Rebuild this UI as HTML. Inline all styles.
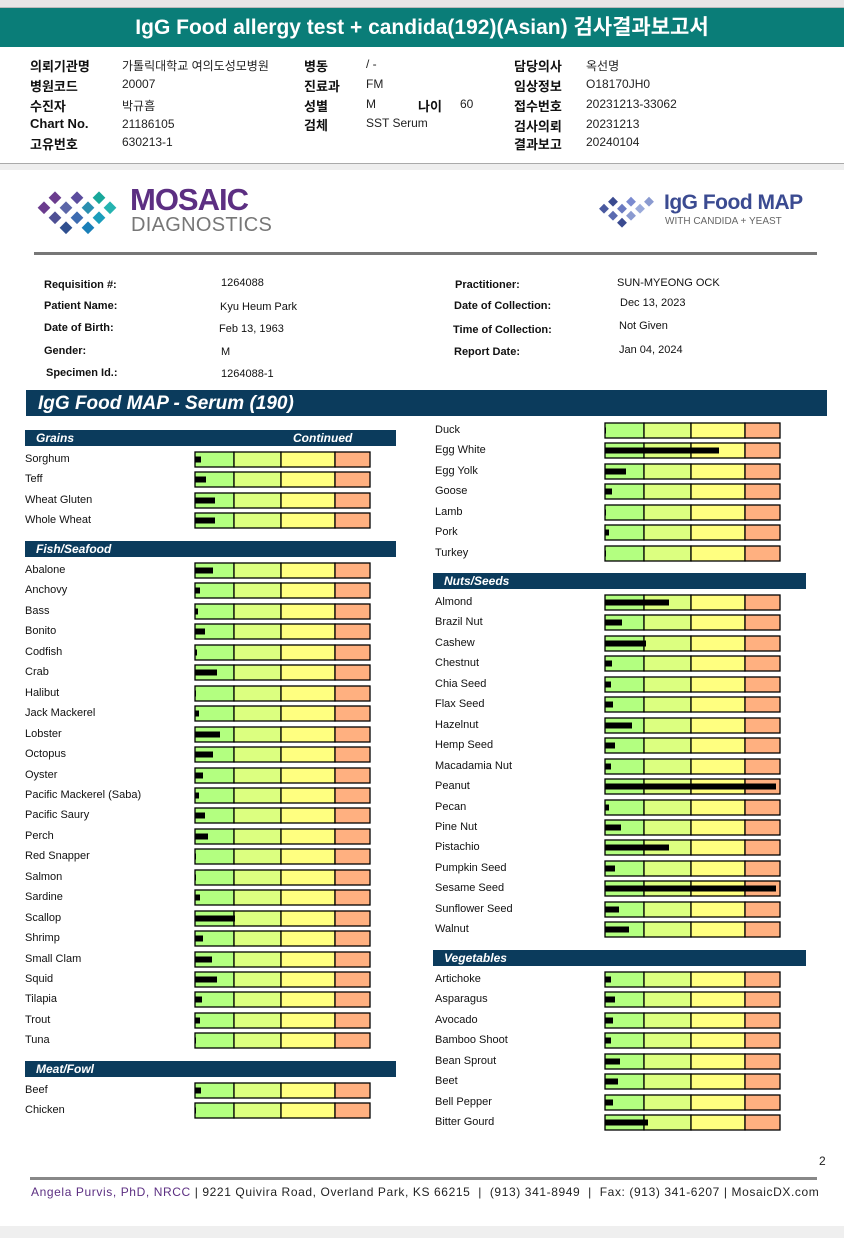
<!DOCTYPE html>
<html><head><meta charset="utf-8">
<style>
body{margin:0;width:844px;height:1238px;position:relative;background:#fff;font-family:"Liberation Sans","Noto Sans CJK KR",sans-serif;overflow:hidden}
.a{position:absolute;white-space:nowrap}
.k{font-weight:bold;font-size:13px;color:#111}
.v{font-size:12px;color:#222}
.pl{font-size:11px;font-weight:bold;color:#111}
.pv{font-size:11px;color:#111}
.sec{position:absolute;height:16px;background:#0b3b5c;color:#fff;font-weight:bold;font-style:italic;font-size:12px;line-height:16px}
.lbl{position:absolute;font-size:11px;color:#111;white-space:nowrap}
</style></head><body>
<div class="a" style="left:0;top:0;width:844px;height:7px;background:#e6e6e6;border-bottom:1px solid #bbb"></div>
<div class="a" style="left:0;top:8px;width:844px;height:39px;background:#0a7d78;color:#fff;font-size:21px;font-weight:bold;text-align:center;line-height:40px">IgG Food allergy test + candida(192)(Asian) 검사결과보고서</div>

<div>
<div class="a k" style="left:30px;top:56px">의뢰기관명</div><div class="a v" style="left:122px;top:57px">가톨릭대학교 여의도성모병원</div>
<div class="a k" style="left:30px;top:76px">병원코드</div><div class="a v" style="left:122px;top:77px">20007</div>
<div class="a k" style="left:30px;top:96px">수진자</div><div class="a v" style="left:122px;top:97px">박규흠</div>
<div class="a k" style="left:30px;top:116px">Chart No.</div><div class="a v" style="left:122px;top:117px">21186105</div>
<div class="a k" style="left:30px;top:134px">고유번호</div><div class="a v" style="left:122px;top:135px">630213-1</div>
<div class="a k" style="left:304px;top:56px">병동</div><div class="a v" style="left:366px;top:57px">/ -</div>
<div class="a k" style="left:304px;top:76px">진료과</div><div class="a v" style="left:366px;top:77px">FM</div>
<div class="a k" style="left:304px;top:96px">성별</div><div class="a v" style="left:366px;top:97px">M</div>
<div class="a k" style="left:418px;top:96px">나이</div><div class="a v" style="left:460px;top:97px">60</div>
<div class="a k" style="left:304px;top:115px">검체</div><div class="a v" style="left:366px;top:116px">SST Serum</div>
<div class="a k" style="left:514px;top:56px">담당의사</div><div class="a v" style="left:586px;top:57px">옥선명</div>
<div class="a k" style="left:514px;top:76px">임상정보</div><div class="a v" style="left:586px;top:77px">O18170JH0</div>
<div class="a k" style="left:514px;top:96px">접수번호</div><div class="a v" style="left:586px;top:97px">20231213-33062</div>
<div class="a k" style="left:514px;top:116px">검사의뢰</div><div class="a v" style="left:586px;top:117px">20231213</div>
<div class="a k" style="left:514px;top:134px">결과보고</div><div class="a v" style="left:586px;top:135px">20240104</div>
</div>
<div class="a" style="left:0;top:163px;width:844px;height:6px;background:#eee;border-top:1px solid #aaa"></div>

<svg class="a" style="left:34px;top:185px" width="90" height="50">
<rect x="6" y="18" width="9" height="9" fill="#6b3c8e" transform="rotate(45 10 22)"/>
<rect x="17" y="8" width="9" height="9" fill="#6b3c8e" transform="rotate(45 21 12)"/>
<rect x="17" y="28" width="9" height="9" fill="#4e4f94" transform="rotate(45 21 32)"/>
<rect x="28" y="18" width="9" height="9" fill="#5b66a8" transform="rotate(45 32 22)"/>
<rect x="28" y="38" width="9" height="9" fill="#2f4f8f" transform="rotate(45 32 42)"/>
<rect x="39" y="8" width="9" height="9" fill="#5b4c9d" transform="rotate(45 43 12)"/>
<rect x="39" y="28" width="9" height="9" fill="#3d6bb0" transform="rotate(45 43 32)"/>
<rect x="50" y="18" width="9" height="9" fill="#2a8fb0" transform="rotate(45 54 22)"/>
<rect x="50" y="38" width="9" height="9" fill="#1a7fb8" transform="rotate(45 54 42)"/>
<rect x="61" y="8" width="9" height="9" fill="#18a79a" transform="rotate(45 65 12)"/>
<rect x="61" y="28" width="9" height="9" fill="#1a9dbb" transform="rotate(45 65 32)"/>
<rect x="72" y="18" width="9" height="9" fill="#25b3b0" transform="rotate(45 76 22)"/>
</svg>
<div class="a" style="left:130px;top:182px;color:#5c2f82;font-size:31px;font-weight:bold;letter-spacing:-1px">MOSAIC</div>
<div class="a" style="left:131px;top:214px;color:#777;font-size:20px;letter-spacing:0.3px">DIAGNOSTICS</div>
<svg class="a" style="left:598px;top:193px" width="60" height="36">
<rect x="3" y="12" width="7" height="7" fill="#4a5aa0" transform="rotate(45 6 15)"/>
<rect x="12" y="5" width="7" height="7" fill="#3a4a90" transform="rotate(45 15 8)"/>
<rect x="12" y="19" width="7" height="7" fill="#5a6ab0" transform="rotate(45 15 22)"/>
<rect x="21" y="12" width="7" height="7" fill="#6a7ac0" transform="rotate(45 24 15)"/>
<rect x="21" y="26" width="7" height="7" fill="#3a4a90" transform="rotate(45 24 29)"/>
<rect x="30" y="5" width="7" height="7" fill="#7a8ad0" transform="rotate(45 33 8)"/>
<rect x="30" y="19" width="7" height="7" fill="#8a9ad0" transform="rotate(45 33 22)"/>
<rect x="39" y="12" width="7" height="7" fill="#9aaada" transform="rotate(45 42 15)"/>
<rect x="48" y="5" width="7" height="7" fill="#8a9ad0" transform="rotate(45 51 8)"/>
</svg>
<div class="a" style="left:664px;top:191px;color:#3b4b91;font-size:21px;font-weight:bold;letter-spacing:-0.5px">IgG Food MAP</div>
<div class="a" style="left:665px;top:216px;color:#666;font-size:10px">WITH CANDIDA + YEAST</div>
<div class="a" style="left:34px;top:252px;width:783px;height:3px;background:#777"></div>

<div>
<div class="a pl" style="left:44px;top:279px">Requisition #:</div><div class="a pv" style="left:221px;top:277px">1264088</div>
<div class="a pl" style="left:44px;top:300px">Patient Name:</div><div class="a pv" style="left:220px;top:301px">Kyu Heum Park</div>
<div class="a pl" style="left:44px;top:322px">Date of Birth:</div><div class="a pv" style="left:219px;top:323px">Feb 13, 1963</div>
<div class="a pl" style="left:44px;top:345px">Gender:</div><div class="a pv" style="left:221px;top:346px">M</div>
<div class="a pl" style="left:46px;top:367px">Specimen Id.:</div><div class="a pv" style="left:221px;top:368px">1264088-1</div>
<div class="a pl" style="left:455px;top:279px">Practitioner:</div><div class="a pv" style="left:617px;top:277px">SUN-MYEONG OCK</div>
<div class="a pl" style="left:454px;top:300px">Date of Collection:</div><div class="a pv" style="left:620px;top:297px">Dec 13, 2023</div>
<div class="a pl" style="left:453px;top:324px">Time of Collection:</div><div class="a pv" style="left:619px;top:320px">Not Given</div>
<div class="a pl" style="left:454px;top:346px">Report Date:</div><div class="a pv" style="left:619px;top:344px">Jan 04, 2024</div>
</div>

<div class="a" style="left:26px;top:390px;width:801px;height:26px;background:#0b3b5c;color:#fff;font-weight:bold;font-style:italic;font-size:19px;line-height:27px;padding-left:12px;box-sizing:border-box">IgG Food MAP - Serum (190)</div>

<div id="chart"></div>

<div class="a" style="left:819px;top:1154px;font-size:12px;color:#222">2</div>
<div class="a" style="left:30px;top:1177px;width:787px;height:3px;background:#888"></div>
<div class="a" style="left:31px;top:1185px;font-size:12px;color:#222;letter-spacing:0.6px"><span style="color:#5c2f82">Angela Purvis, PhD, NRCC</span> | 9221 Quivira Road, Overland Park, KS 66215 &nbsp;| &nbsp;(913) 341-8949 &nbsp;| &nbsp;Fax: (913) 341-6207 | MosaicDX.com</div>
<div class="a" style="left:0;top:1226px;width:844px;height:12px;background:#efefef"></div>

<script>
const leftSections = ["Grains","Fish/Seafood","Meat/Fowl"];
const grainsFoods = ["Sorghum","Teff","Wheat Gluten","Whole Wheat"];
const grainsValues = [6,11,20,20];
const fishFoods = ["Abalone","Anchovy","Bass","Bonito","Codfish","Crab","Halibut","Jack Mackerel","Lobster","Octopus","Oyster","Pacific Mackerel (Saba)","Pacific Saury","Perch","Red Snapper","Salmon","Sardine","Scallop","Shrimp","Small Clam","Squid","Tilapia","Trout","Tuna"];
const fishValues = [18,5,3,10,2,22,1,4,25,18,8,4,10,13,1,1,5,40,8,17,22,7,5,1];
const meatFoods = ["Beef","Chicken"];
const meatValues = [6,1];
const meatContFoods = ["Duck","Egg White","Egg Yolk","Goose","Lamb","Pork","Turkey"];
const meatContValues = [1,114,21,7,1,4,1];
const nutsFoods = ["Almond","Brazil Nut","Cashew","Chestnut","Chia Seed","Flax Seed","Hazelnut","Hemp Seed","Macadamia Nut","Peanut","Pecan","Pine Nut","Pistachio","Pumpkin Seed","Sesame Seed","Sunflower Seed","Walnut"];
const nutsValues = [64,17,41,7,6,8,27,10,6,171,4,16,64,10,171,14,24];
const vegFoods = ["Artichoke","Asparagus","Avocado","Bamboo Shoot","Bean Sprout","Beet","Bell Pepper","Bitter Gourd"];
const vegValues = [6,10,8,6,15,13,8,43];
const zoneBreaks = [0,39,86,140,175];
const zoneColors = ["#b3ff80","#dcff80","#ffff80","#ffb080"];

const chart = document.getElementById('chart');
const STEP = 20.45, BOXW = 175;
function xScale(v){ return Math.min(v, BOXW) * 1; }
function slug(s){ return s.toLowerCase().replace(/[^a-z0-9]+/g,'-').replace(/-$/,''); }

function header(x, y, w, title, cont){
  const h = document.createElement('div');
  h.className = 'sec';
  h.style.left = x+'px'; h.style.top = y+'px'; h.style.width = w+'px';
  h.innerHTML = '<span style="position:absolute;left:11px">'+title+'</span>' + (cont ? '<span style="position:absolute;left:268px">Continued</span>' : '');
  
  
  chart.appendChild(h);
}
function rows(foods, values, lx, bx, y0){
  foods.forEach((f, i) => {
    const cy = y0 + i*STEP;
    const l = document.createElement('div');
    l.className = 'lbl'; l.textContent = f;
    l.style.left = lx+'px'; l.style.top = (cy-7)+'px';
    
    
    chart.appendChild(l);
    const svg = document.createElementNS('http://www.w3.org/2000/svg','svg');
    svg.setAttribute('width', BOXW+2); svg.setAttribute('height', 17);
    svg.style.position = 'absolute'; svg.style.left = (bx-1)+'px'; svg.style.top = (cy-9)+'px';
    
    
    let s = '';
    for (let z = 0; z < 4; z++) {
      s += '<rect x="'+(1+zoneBreaks[z])+'" y="1" width="'+(zoneBreaks[z+1]-zoneBreaks[z])+'" height="15" fill="'+zoneColors[z]+'" stroke="#000" stroke-width="1.3"/>';
    }
    s += '<rect x="1" y="5.5" width="'+xScale(values[i])+'" height="6" fill="#000"/>';
    svg.innerHTML = s;
    chart.appendChild(svg);
  });
}
header(25, 430, 371, leftSections[0], true);
rows(grainsFoods, grainsValues, 25, 195, 460);
header(25, 541, 371, leftSections[1], false);
rows(fishFoods, fishValues, 25, 195, 571);
header(25, 1061, 371, leftSections[2], false);
rows(meatFoods, meatValues, 25, 195, 1091);
rows(meatContFoods, meatContValues, 435, 605, 431);
header(433, 573, 373, "Nuts/Seeds", false);
rows(nutsFoods, nutsValues, 435, 605, 603);
header(433, 950, 373, "Vegetables", false);
rows(vegFoods, vegValues, 435, 605, 980);
</script>
</body></html>
